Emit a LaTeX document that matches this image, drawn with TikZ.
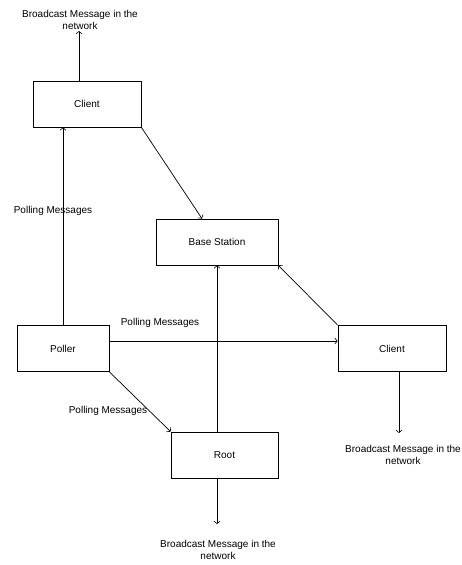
\documentclass[tikz,border=0pt]{standalone}
\usepackage{fontspec}
\setmainfont{Liberation Sans}
\usetikzlibrary{arrows.meta}
\begin{document}
\begin{tikzpicture}[x=1pt,y=-1pt,line width=0.7pt,
  box/.style={draw,minimum width=#1,minimum height=46pt,inner sep=0pt,font=\fontsize{10}{12}\selectfont},
  box/.default=108pt,
  msg/.style={align=center,inner sep=1pt,font=\fontsize{10}{12}\selectfont},
  >={Straight Barb[length=2.5pt,width=6pt,line width=0.6pt]}]
\useasboundingbox (0,0) rectangle (462,565);

\node[box] (client1) at (87,104) {Client};
\node[box=122pt] (base) at (217,242) {Base Station};
\node[box] (client2) at (392,348.5) {Client};
\node[box=92pt] (poller) at (63,348.5) {Poller};
\node[box=107pt] (root) at (224.5,455) {Root};

\node[msg] (bc1) at (80,20) {Broadcast Message in the\\network};
\node[msg] (bc2) at (403,455) {Broadcast Message in the\\network};
\node[msg] (bc3) at (218,550) {Broadcast Message in the\\network};
\node[msg] (pm1) at (53,211) {Polling Messages};
\node[msg] (pm2) at (160,323) {Polling Messages};
\node[msg] (pm3) at (108,411) {Polling Messages};

\coordinate (out2) at (399,433);
\coordinate (out3) at (217,524);

\draw[->] ([xshift=-8pt]client1.north) -- ([xshift=-8pt]client1.north |- bc1.south);
\draw[->] (poller.north) -- (poller.north |- client1.south);
\draw[->] (client1.south east) -- ([xshift=-15pt]base.north);
\draw[->] (base.south |- root.north) -- (base.south);
\draw[->] (client2.north west) -- (base.south east);
\draw[->] ([yshift=7.5pt]poller.east) -- ([yshift=7.5pt]client2.west);
\draw[->] (poller.south east) -- (root.north west);
\draw[->] (out2 |- client2.south) -- (out2);
\draw[->] (out3 |- root.south) -- (out3);
\end{tikzpicture}
\end{document}
